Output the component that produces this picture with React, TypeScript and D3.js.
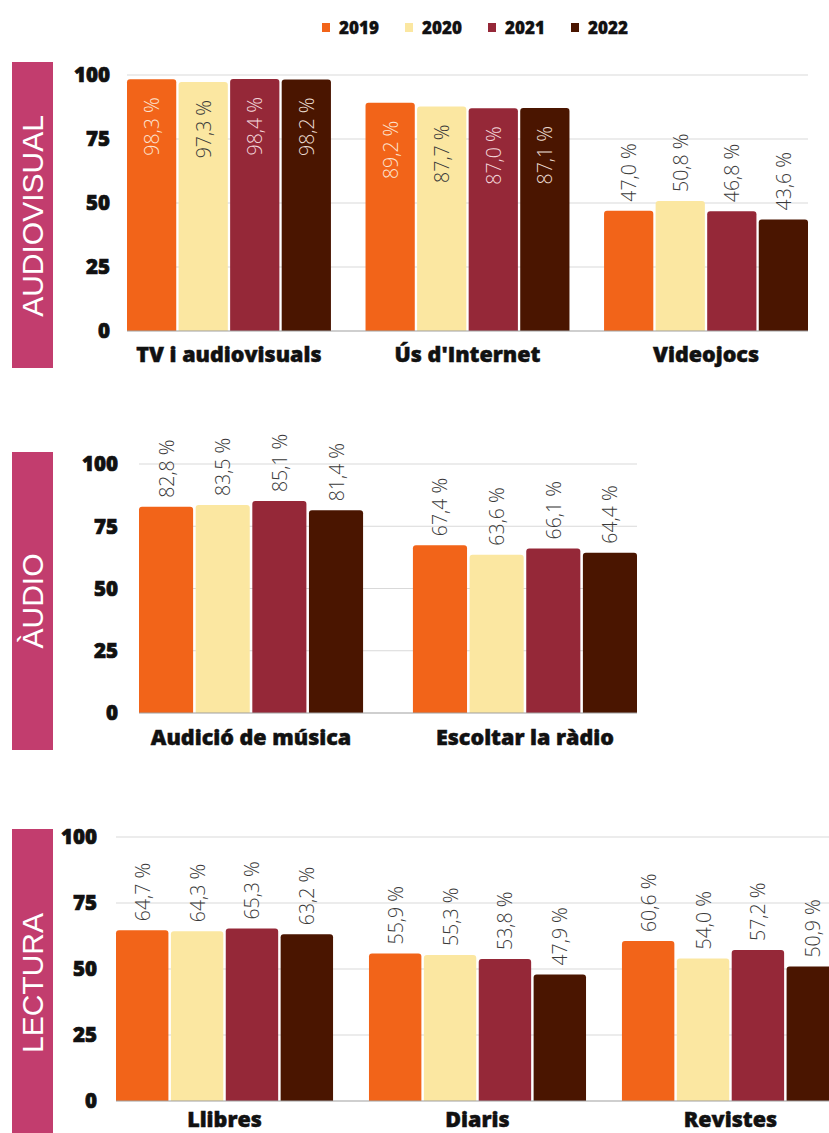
import React from "react";
import * as d3 from "d3";

const years = ["2019", "2020", "2021", "2022"];
const yearColors = ["#F26419", "#FBE7A1", "#952838", "#4A1500"];
const insideTextColors = ["#fde3d0", "#3a3a3a", "#f3d6da", "#eadbd0"];
const yTicks = [0, 25, 50, 75, 100];

const audiovisualCats = ["TV i audiovisuals", "Ús d'Internet", "Videojocs"];
const audiovisualValues = [
  [98.3, 97.3, 98.4, 98.2],
  [89.2, 87.7, 87.0, 87.1],
  [47.0, 50.8, 46.8, 43.6],
];
const audiovisualInside = [true, true, false];

const audioCats = ["Audició de música", "Escoltar la ràdio"];
const audioValues = [
  [82.8, 83.5, 85.1, 81.4],
  [67.4, 63.6, 66.1, 64.4],
];
const audioInside = [false, false];

const lecturaCats = ["Llibres", "Diaris", "Revistes"];
const lecturaValues = [
  [64.7, 64.3, 65.3, 63.2],
  [55.9, 55.3, 53.8, 47.9],
  [60.6, 54.0, 57.2, 50.9],
];
const lecturaInside = [false, false, false];

const panels = [
  { title: "AUDIOVISUAL", cats: audiovisualCats, values: audiovisualValues, inside: audiovisualInside,
    x0: 127, x1: 808, y0: 331, y1: 75, pad: 0.145, tickX: 110, box: [62, 368], titleY: 216, catDy: 31 },
  { title: "ÀUDIO", cats: audioCats, values: audioValues, inside: audioInside,
    x0: 139, x1: 637, y0: 713, y1: 464, pad: 0.182, tickX: 118, box: [452, 750], titleY: 601, catDy: 32 },
  { title: "LECTURA", cats: lecturaCats, values: lecturaValues, inside: lecturaInside,
    x0: 116, x1: 839, y0: 1101, y1: 837, pad: 0.142, tickX: 97, box: [829, 1140], titleY: 983, catDy: 26 },
];

const fmt = (v: number) => v.toFixed(1).replace(".", ",") + " %";

function topRounded(x: number, y: number, w: number, h: number, r: number) {
  const rr = Math.min(r, h, w / 2);
  const p = d3.path();
  p.moveTo(x, y + h);
  p.lineTo(x, y + rr);
  p.quadraticCurveTo(x, y, x + rr, y);
  p.lineTo(x + w - rr, y);
  p.quadraticCurveTo(x + w, y, x + w, y + rr);
  p.lineTo(x + w, y + h);
  p.closePath();
  return p.toString();
}

function Panel({ cfg }: { cfg: any }) {
  const x = d3.scaleBand<string>().domain(cfg.cats).range([cfg.x0, cfg.x1]).paddingInner(cfg.pad).paddingOuter(0);
  const xi = d3.scaleBand<string>().domain(years).range([0, x.bandwidth()]).paddingInner(0.045).paddingOuter(0);
  const y = d3.scaleLinear().domain([0, 100]).range([cfg.y0, cfg.y1]);
  const fs = 19.5;
  return (
    <g>
      <rect x={12} y={cfg.box[0]} width={41} height={cfg.box[1] - cfg.box[0]} fill="#C23D6E" />
      <text
        transform={`translate(${43},${cfg.titleY}) rotate(-90)`}
        textAnchor="middle"
        fill="#fff"
        fontFamily="'Liberation Sans', Arial, sans-serif"
        fontSize={30}
      >
        {cfg.title}
      </text>
      {yTicks.map((t) => (
        <g key={t}>
          {t > 0 && <line x1={cfg.x0} x2={cfg.x1} y1={y(t)} y2={y(t)} stroke="#d9d9d9" strokeWidth={1.2} />}
          <text x={cfg.tickX} y={y(t)} dy="0.36em" textAnchor="end" fontFamily="'Open Sans', sans-serif"
            fontWeight={800} fontSize={20.5} fill="#111" stroke="#111" strokeWidth={0.7}>{t}</text>
        </g>
      ))}
      {cfg.cats.map((c: string, ci: number) => (
        <g key={c}>
          {years.map((yr, yi) => {
            const v = cfg.values[ci][yi];
            const bx = (x(c) as number) + (xi(yr) as number);
            const bw = xi.bandwidth();
            const top = y(v);
            const cx = bx + bw / 2;
            const inside = cfg.inside[ci];
            return (
              <g key={yr}>
                <path d={topRounded(bx, top, bw, cfg.y0 - top, 3)} fill={yearColors[yi]} />
                <text
                  transform={`translate(${cx},${inside ? top + 18 : top - 9}) rotate(-90)`}
                  textAnchor={inside ? "end" : "start"}
                  dominantBaseline="central"
                  fontFamily="'Open Sans', Lato, sans-serif"
                  fontWeight={300}
                  fontSize={fs}
                  fill={inside ? insideTextColors[yi] : "#3a3a3a"}
                >
                  {fmt(v)}
                </text>
              </g>
            );
          })}
          <text x={(x(c) as number) + x.bandwidth() / 2} y={cfg.y0 + cfg.catDy} textAnchor="middle"
            fontFamily="'Open Sans', sans-serif" fontWeight={800} fontSize={21.5} fill="#111"
            stroke="#111" strokeWidth={0.5}>{c}</text>
        </g>
      ))}
      <line x1={cfg.x0} x2={cfg.x1} y1={cfg.y0} y2={cfg.y0} stroke="#a0a0a0" strokeWidth={1.2} />
    </g>
  );
}

export default function App() {
  const lx = d3.scaleLinear().domain([0, 1]).range([322, 405]);
  return (
    <svg width={829} height={1133} style={{ position: "absolute", left: 0, top: 0, background: "#fff" }}>
      <rect width={829} height={1133} fill="#fff" />
      {years.map((yr, i) => (
        <g key={yr}>
          <rect x={lx(i)} y={23} width={8} height={9} fill={yearColors[i]} />
          <text x={lx(i) + 17} y={27.5} dy="0.36em" fontFamily="'Open Sans', sans-serif" fontWeight={800}
            fontSize={17} fill="#111" stroke="#111" strokeWidth={0.4}>{yr}</text>
        </g>
      ))}
      {panels.map((p) => (
        <Panel key={p.title} cfg={p} />
      ))}
    </svg>
  );
}
